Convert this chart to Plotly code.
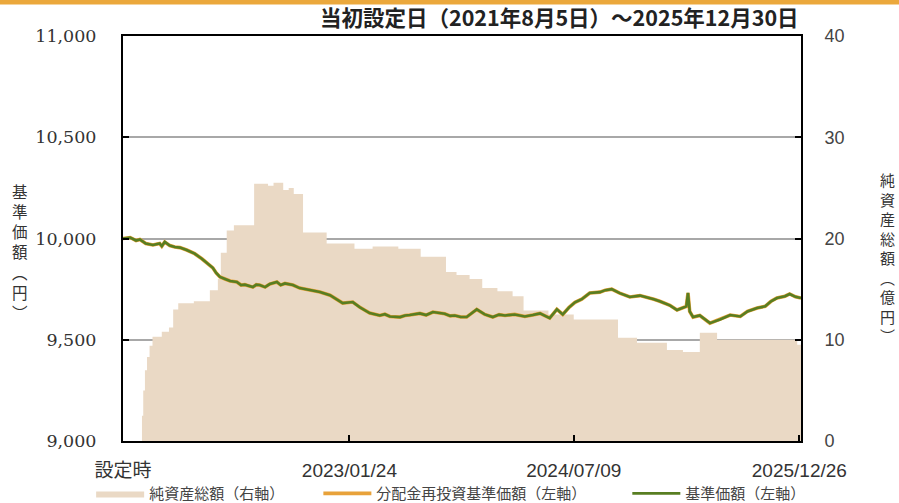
import plotly.graph_objects as go

# ---- data ----
na_dates = ["2021-08-05", "2021-09-17", "2021-09-19", "2021-09-22", "2021-09-26", "2021-10-01",
            "2021-10-07", "2021-10-14", "2021-11-05", "2021-11-22", "2021-12-02", "2021-12-14",
            "2022-01-20", "2022-02-27", "2022-03-18", "2022-03-25", "2022-04-08", "2022-04-25",
            "2022-06-12", "2022-07-15", "2022-07-28", "2022-08-20", "2022-09-02", "2022-09-14",
            "2022-10-06", "2022-12-01", "2023-02-05", "2023-03-20", "2023-05-20", "2023-07-12",
            "2023-09-10", "2023-10-05", "2023-11-05", "2023-12-05", "2024-01-10", "2024-02-15",
            "2024-03-12", "2024-05-10", "2024-07-09", "2024-10-22", "2024-12-06", "2025-02-15",
            "2025-03-25", "2025-05-04", "2025-06-14", "2025-12-21", "2025-12-30"]
na_values = [0, 0, 2.5, 5.0, 7.0, 8.3,
             9.4, 10.3, 10.8, 11.2, 13.0, 13.6,
             13.8, 14.9, 16.0, 18.6, 20.8, 21.3,
             25.4, 25.2, 25.5, 24.8, 25.0, 24.4,
             20.6, 19.5, 19.0, 19.2, 19.0, 18.2,
             16.7, 16.4, 16.0, 15.1, 14.8, 14.3,
             12.9, 12.5, 12.0, 10.2, 9.7, 9.0,
             8.8, 10.7, 10.0, 9.5, 9.5]

nav_dates = ["2021-08-05", "2021-08-22", "2021-09-05", "2021-09-14", "2021-09-28", "2021-10-15",
             "2021-10-31", "2021-11-05", "2021-11-12", "2021-11-24", "2021-12-06", "2021-12-18",
             "2022-01-03", "2022-01-22", "2022-02-08", "2022-02-20", "2022-03-06", "2022-03-14",
             "2022-03-23", "2022-04-04", "2022-04-16", "2022-05-02", "2022-05-12", "2022-05-21",
             "2022-06-09", "2022-06-17", "2022-06-25", "2022-07-08", "2022-07-19", "2022-08-05",
             "2022-08-14", "2022-08-24", "2022-09-12", "2022-09-28", "2022-10-10", "2022-10-22",
             "2022-11-15", "2022-12-09", "2022-12-25", "2023-01-08", "2023-02-01", "2023-02-18",
             "2023-03-13", "2023-04-06", "2023-04-18", "2023-04-30", "2023-05-24", "2023-06-05",
             "2023-06-16", "2023-07-10", "2023-07-25", "2023-08-10", "2023-09-07", "2023-09-20",
             "2023-10-01", "2023-10-15", "2023-10-29", "2023-11-22", "2023-12-11", "2023-12-30",
             "2024-01-14", "2024-01-28", "2024-02-20", "2024-03-15", "2024-04-03", "2024-04-20",
             "2024-05-13", "2024-05-30", "2024-06-13", "2024-06-28", "2024-07-12", "2024-07-28",
             "2024-08-16", "2024-09-09", "2024-09-22", "2024-10-07", "2024-10-26", "2024-11-19",
             "2024-12-13", "2024-12-29", "2025-01-15", "2025-01-29", "2025-02-22", "2025-03-11",
             "2025-04-02", "2025-04-06", "2025-04-10", "2025-04-18", "2025-05-04", "2025-05-28",
             "2025-06-21", "2025-07-15", "2025-08-08", "2025-08-25", "2025-09-17", "2025-10-06",
             "2025-10-20", "2025-11-03", "2025-11-22", "2025-12-03", "2025-12-17", "2025-12-30"]
nav_values = [10000, 10005, 9990, 9995, 9975, 9968,
              9975, 9962, 9983, 9965, 9958, 9955,
              9943, 9925, 9900, 9879, 9855, 9830,
              9810, 9800, 9790, 9785, 9770, 9772,
              9760, 9772, 9770, 9760, 9775, 9785,
              9770, 9778, 9770, 9755, 9750, 9745,
              9736, 9720, 9700, 9681, 9686, 9660,
              9632, 9620, 9626, 9615, 9612, 9620,
              9622, 9630, 9622, 9637, 9628, 9618,
              9620, 9612, 9612, 9650, 9625, 9612,
              9624, 9620, 9625, 9615, 9622, 9630,
              9607, 9650, 9625, 9660, 9685, 9700,
              9731, 9735, 9745, 9750, 9730, 9711,
              9718, 9711, 9700, 9690, 9670, 9647,
              9665, 9731, 9640, 9612, 9620, 9582,
              9600, 9622, 9615, 9640, 9657, 9665,
              9690, 9706, 9715, 9726, 9712, 9706]
reinvest_values = list(nav_values)  # no distributions paid: identical to NAV

x_tickvals = ["2021-08-05", "2023-01-24", "2024-07-09", "2025-12-26"]
x_ticktext = ["設定時", "2023/01/24", "2024/07/09", "2025/12/26"]
left_ticks = [9000, 9500, 10000, 10500, 11000]
left_ticktext = ["9,000", "9,500", "10,000", "10,500", "11,000"]
right_ticks = [0, 10, 20, 30, 40]

CJK = "Noto Sans CJK JP"
AREA = "#EAD9C5"
ORANGE = "#E8A23A"
GREEN = "#587E22"
PAD = "\u3000\u3000\u00a0\u00a0"

fig = go.Figure()
fig.add_trace(go.Scatter(
    x=na_dates, y=na_values, name="純資産総額（右軸）" + PAD, yaxis="y",
    mode="lines", line=dict(shape="hv", width=0, color=AREA),
    fill="tozeroy", fillcolor=AREA))
fig.add_trace(go.Scatter(
    x=nav_dates, y=reinvest_values, name="分配金再投資基準価額（左軸）" + PAD + "\u00a0\u00a0", yaxis="y2",
    mode="lines", line=dict(color=ORANGE, width=3.6)))
fig.add_trace(go.Scatter(
    x=nav_dates, y=nav_values, name="基準価額（左軸）", yaxis="y2",
    mode="lines", line=dict(color=GREEN, width=2.6)))

fig.update_layout(
    width=899, height=503,
    margin=dict(l=123, r=98, t=36, b=62, autoexpand=False),
    paper_bgcolor="white", plot_bgcolor="white",
    font=dict(family=CJK, color="#333333"),
    showlegend=True,
    legend=dict(orientation="h", x=-0.047, xanchor="left", y=-0.13, yanchor="middle",
                font=dict(size=15, family=CJK, color="#444444"),
                bgcolor="rgba(0,0,0,0)", itemwidth=48),
    xaxis=dict(type="date", range=["2021-08-05", "2025-12-30"],
               tickmode="array", tickvals=x_tickvals, ticktext=x_ticktext,
               showline=True, linecolor="black", linewidth=2, mirror=True,
               ticks="inside", ticklen=6, tickwidth=2, tickcolor="black",
               showgrid=False, zeroline=False, ticklabelstandoff=11,
               tickfont=dict(family="Liberation Sans, " + CJK, size=19, color="#333333")),
    yaxis=dict(side="right", range=[0, 40], tickmode="array", tickvals=right_ticks,
               showgrid=False, zeroline=False, showline=True, linecolor="black", linewidth=2,
               ticks="inside", ticklen=6, tickwidth=2, tickcolor="black",
               ticklabelstandoff=18,
               tickfont=dict(family="Liberation Sans", size=18, color="#444444")),
    yaxis2=dict(overlaying="y", side="left", range=[9000, 11000], tickmode="array",
                tickvals=left_ticks, ticktext=left_ticktext,
                showgrid=True, gridcolor="#A8A8A8", gridwidth=1.5, zeroline=False,
                showline=True, linecolor="black", linewidth=2,
                ticks="inside", ticklen=6, tickwidth=2, tickcolor="black",
                ticklabelstandoff=21,
                tickfont=dict(family="DejaVu Serif", size=17.5, color="#333333")),
)

fig.add_annotation(text="<b>当初設定日（2021年8月5日）～2025年12月30日</b>",
                   xref="paper", yref="paper", x=1.0, y=1.047, xanchor="right", yanchor="middle",
                   showarrow=False, font=dict(family=CJK, size=21.5, color="#222222"))
fig.add_annotation(text="<br>".join(list("基準価額") + ["︵", "円", "︶"]),
                   xref="paper", yref="paper", x=-0.152, y=0.468, xanchor="center", yanchor="middle",
                   showarrow=False, font=dict(family=CJK, size=15.5, color="#333333"))
fig.add_annotation(text="<br>".join(list("純資産総額") + ["︵", "億", "円", "︶"]),
                   xref="paper", yref="paper", x=1.128, y=0.452, xanchor="center", yanchor="middle",
                   showarrow=False, font=dict(family=CJK, size=15, color="#333333"))
# thin orange band at the very top of the picture
fig.add_shape(type="rect", xref="paper", yref="paper", x0=-0.19, x1=1.15, y0=1.078, y1=1.09,
              fillcolor="#EBA83C", line=dict(width=0), layer="above")

# remove the browser's default 8px page margin so the figure sits at the window origin
fig.write_html("out.html", config={"displayModeBar": False},
               post_script="document.body.style.margin='0px';")
